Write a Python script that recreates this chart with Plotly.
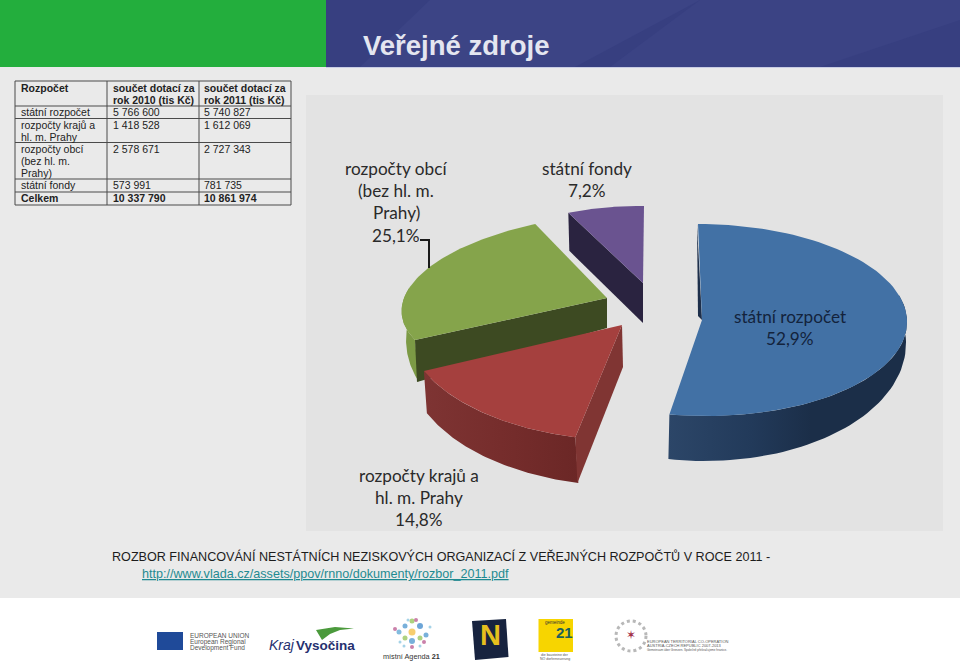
import math
import plotly.graph_objects as go

# ---------- data ----------
table_header = ["Rozpočet", "součet dotací za<br>rok 2010 (tis Kč)", "součet dotací za<br>rok 2011 (tis Kč)"]
row_labels = ["státní rozpočet", "rozpočty krajů a<br>hl. m. Prahy", "rozpočty obcí<br>(bez hl. m.<br>Prahy)", "státní fondy", "Celkem"]
col_2010 = ["5 766 600", "1 418 528", "2 578 671", "573 991", "10 337 790"]
col_2011 = ["5 740 827", "1 612 069", "2 727 343", "781 735", "10 861 974"]
values_2011 = [5740827, 1612069, 2727343, 781735]
pie_names = ["státní rozpočet", "rozpočty krajů a hl. m. Prahy", "rozpočty obcí (bez hl. m. Prahy)", "státní fondy"]

# ---------- layout constants ----------
FONT = "Liberation Sans"
PIE_FONT = "Lato"
total = sum(values_2011)
edges = [0]
for v in values_2011:
    edges.append(edges[-1] + 360 * v / total)
angles = {n: (edges[i], edges[i + 1]) for i, n in enumerate(pie_names)}

fig = go.Figure()
shapes = []
notes = []


def rect(x0, y0, x1, y1, fill, line=None, width=0):
    shapes.append(dict(type="rect", x0=x0, y0=y0, x1=x1, y1=y1, fillcolor=fill, layer="below",
                       line=dict(color=line or fill, width=width)))


def hline(x0, y0, x1, y1, color, width=1):
    shapes.append(dict(type="line", x0=x0, y0=y0, x1=x1, y1=y1, layer="below", line=dict(color=color, width=width)))


def text(x, y, s, size, color="#222222", family=FONT, anchor="left", valign="middle", bold=False, italic=False):
    if bold:
        s = "<b>" + s + "</b>"
    if italic:
        s = "<i>" + s + "</i>"
    xa = "center" if anchor == "middle" else anchor
    notes.append(dict(x=x, y=y, text=s, showarrow=False, xanchor=xa, yanchor=valign, align=xa,
                      font=dict(size=size, color=color, family=family), xref="x", yref="y",
                      borderpad=0, borderwidth=0))


def poly(xs, ys, fill, gradient=None):
    kw = dict(fillgradient=gradient) if gradient else dict(fillcolor=fill)
    fig.add_trace(go.Scatter(x=xs, y=ys, mode="lines", fill="toself", line=dict(width=0, color=fill),
                             hoverinfo="skip", showlegend=False, **kw))


def pt(apex, A, theta):
    u, v = math.sin(math.radians(theta)), -math.cos(math.radians(theta))
    return apex[0] + A[0] * u + A[1] * v, apex[1] + A[2] * u + A[3] * v


def arc(apex, A, t0, t1, n=60):
    pts = [pt(apex, A, t0 + (t1 - t0) * i / n) for i in range(n + 1)]
    return [p[0] for p in pts], [p[1] for p in pts]


def wall(apex, A, apex_b, A_b, t0, t1, fill, gradient=None):
    x1, y1 = arc(apex, A, t0, t1)
    x2, y2 = arc(apex_b, A_b, t0, t1)
    poly(x1 + x2[::-1] + [x1[0]], y1 + y2[::-1] + [y1[0]], fill, gradient)


def radial(apex, A, theta, drop_apex, drop_rim, fill):
    rx, ry = pt(apex, A, theta)
    poly([apex[0], rx, rx + drop_rim[0], apex[0] + drop_apex[0], apex[0]],
         [apex[1], ry, ry + drop_rim[1], apex[1] + drop_apex[1], apex[1]], fill)


def face(apex, A, t0, t1, fill):
    xs, ys = arc(apex, A, t0, t1, 90)
    poly([apex[0]] + xs + [apex[0]], [apex[1]] + ys + [apex[1]], fill)


# ---------- page background ----------
rect(0, 0, 960, 666, "#eaeaea")
rect(0, 0, 326, 67, "#23ae3d")
rect(326, 0, 960, 67, "#373f80")
shapes.append(dict(type="path", path="M 430 0 L 700 0 L 575 67 L 360 67 Z", fillcolor="#3c4485", line=dict(width=0), layer="below"))
shapes.append(dict(type="path", path="M 700 0 L 960 0 L 960 20 L 820 67 L 610 67 Z", fillcolor="#3b4384", line=dict(width=0), layer="below"))
rect(326, 67, 960, 68, "#c9cde4")
rect(0, 598, 960, 666, "#ffffff")
rect(306, 95, 943, 531, "#e3e3e3")

# ---------- pie, back to front ----------
a_state, a_reg, a_mun, a_fund = [angles[n] for n in pie_names]

# státní fondy
ap = (643, 283); A = (173, -1, 2, 77)
radial(ap, A, a_fund[0], (0, 40), (1, 38), "#2a2340")
face(ap, A, a_fund[0], a_fund[1], "#6a5390")

# státní rozpočet
ap = (702, 320); A = (205, 4, 0, 96)
wall(ap, A, (701, 341), (205, 4, 0, 120), 75, a_state[1], "#1c2f4a",
     gradient=dict(type="horizontal", colorscale=[[0, "#2c4668"], [0.35, "#223a5a"], [0.6, "#1b2e48"], [1, "#1b2e48"]]))
r0 = pt(ap, A, 0)
poly([r0[0] - 1, ap[0] - 4, ap[0], r0[0] - 1], [r0[1], ap[1] - 4, ap[1], r0[1]], "#1d2f4b")
face(ap, A, a_state[0], a_state[1], "#4271a5")

# rozpočty obcí
ap = (607, 298); A = (204.5, -19.6, -5, 84.7)
wall(ap, A, (607, 323), (200, -19.6, -5, 123), a_mun[0], 280, "#7c9a45")
radial(ap, A, a_mun[0], (0, 30), (2, 42), "#3d4a22")
face(ap, A, a_mun[0], a_mun[1], "#85a44b")

# rozpočty krajů
ap = (622, 325); A = (217, -8.1, 5.5, 115)
wall(ap, A, (625, 364), (217, -8.1, 5.5, 122), a_reg[0], a_reg[1], "#762d2c",
     gradient=dict(type="horizontal", colorscale=[[0, "#7e3433"], [0.5, "#762d2c"], [1, "#6b2726"]]))
radial(ap, A, a_reg[0], (1, 42), (2, 46), "#803533")
face(ap, A, a_reg[0], a_reg[1], "#a5403e")

# leader line
fig.add_trace(go.Scatter(x=[420, 429, 429], y=[240, 240, 268], mode="lines", line=dict(color="#1a1a1a", width=2),
                         hoverinfo="skip", showlegend=False))

# ---------- pie labels ----------
PCT = {n: f"{100 * v / total:.1f}%".replace(".", ",") for n, v in zip(pie_names, values_2011)}
LS = 17.2
for i, s in enumerate(["rozpočty obcí", "(bez hl. m.", "Prahy)", PCT[pie_names[2]]]):
    text(396, 168 + i * 22.4, s, LS, "#2a2a2a", PIE_FONT, "middle")
for i, s in enumerate(["státní fondy", PCT[pie_names[3]]]):
    text(587, 168 + i * 22, s, LS, "#2a2a2a", PIE_FONT, "middle")
for i, s in enumerate(["státní rozpočet", PCT[pie_names[0]]]):
    text(790, 316 + i * 22, s, LS, "#13233c", PIE_FONT, "middle")
for i, s in enumerate(["rozpočty krajů a", "hl. m. Prahy", PCT[pie_names[1]]]):
    text(419, 475 + i * 22.4, s, LS, "#2a2a2a", PIE_FONT, "middle")

# ---------- table ----------
cols = [15, 107, 199, 291]
rows = [81, 106, 118.5, 142.5, 179, 192, 205]
for x in cols:
    hline(x, rows[0], x, rows[-1], "#4a4a4a", 1)
for y in rows:
    hline(cols[0], y, cols[-1], y, "#4a4a4a", 1)
TS = 10.5
LH = 12.2
text_x = [21, 113, 204]


def cell(x, top, s, bold=False):
    for i, part in enumerate(s.split("<br>")):
        text(x, top + 6.6 + i * LH, part, TS, "#222222", FONT, "left", "middle", bold)


for x, s in zip(text_x, table_header):
    cell(x, rows[0], s, True)
for i, label in enumerate(row_labels):
    bold = label == "Celkem"
    top = rows[i + 1]
    cell(text_x[0], top - 0.3, label, bold)
    cell(text_x[1], top - 0.3, col_2010[i], bold)
    cell(text_x[2], top - 0.3, col_2011[i], bold)

# ---------- title and source ----------
text(363, 45.5, "Veřejné zdroje", 27.5, "#e4e6f0", FONT, "left", "middle", True)
text(112, 556.5, "ROZBOR FINANCOVÁNÍ NESTÁTNÍCH NEZISKOVÝCH ORGANIZACÍ Z VEŘEJNÝCH ROZPOČTŮ V ROCE 2011 -", 12.6, "#1c1c1c")
text(142, 574, "<u>http://www.vlada.cz/assets/ppov/rnno/dokumenty/rozbor_2011.pdf</u>", 12.6, "#1f8a91")

# ---------- footer logos ----------
rect(157, 632, 183, 650, "#1f4a99")
for i, s in enumerate(["EUROPEAN UNION", "European Regional", "Development Fund"]):
    text(190, 635.5 + i * 6, s, 6.5, "#555555")
fig.add_trace(go.Scatter(x=[316, 335, 354, 340, 330, 322, 316], y=[630, 627, 628.5, 630, 634, 640, 630], mode="lines", fill="toself",
                         fillcolor="#4b9a3c", line=dict(width=0, color="#4b9a3c"), hoverinfo="skip", showlegend=False))
text(269, 645, "Kraj", 14, "#26306f", FONT, "left", "middle", False, True)
text(296, 645, "Vysočina", 13.5, "#26306f", FONT, "left", "middle", True)
dot_x = [412, 405, 420, 399, 426, 405, 412, 420, 400, 424, 412, 404, 420, 412, 395, 430, 408, 416]
dot_y = [632, 626, 626, 632, 635, 638, 641, 638, 642, 642, 647, 646, 646, 621, 629, 627, 620, 620]
dot_c = ["#f4b932", "#3f8fca", "#2f7fc6", "#4e9fd1", "#3f8fca", "#8cbf4a", "#3f8fca", "#8cbf4a", "#7fc0dd", "#b34b86",
         "#b34b86", "#7fc0dd", "#7fc0dd", "#8cbf4a", "#b34b86", "#7fc0dd", "#7fc0dd", "#b34b86"]
dot_s = [7, 5, 6, 5, 5, 5, 6, 5, 3, 4, 4, 3, 3, 5, 4, 3, 3, 4]
fig.add_trace(go.Scatter(x=dot_x, y=dot_y, mode="markers", marker=dict(color=dot_c, size=dot_s, line=dict(width=0)),
                         hoverinfo="skip", showlegend=False))
text(411, 656, "místní Agenda <b>21</b>", 7.3, "#333333", FONT, "middle")
fig.add_trace(go.Scatter(x=[472, 506, 508.5, 475, 472], y=[621, 619, 657, 660, 621], mode="lines", fill="toself",
                         fillcolor="#17233f", line=dict(width=0, color="#17233f"), hoverinfo="skip", showlegend=False))
text(490, 635, "N", 29, "#e6bf1d", FONT, "middle", "middle", True)
rect(538.5, 619, 573, 652, "#f7d500")
text(555, 622.5, "gemeinde", 4.5, "#333333", FONT, "middle")
text(573, 632, "21", 15, "#20605a", FONT, "right", "middle", True)
text(555, 654.5, "die bausteine der", 3.5, "#555555", FONT, "middle")
text(555, 658.5, "NÖ dorferneuerung", 3.5, "#555555", FONT, "middle")
shapes.append(dict(type="circle", x0=616, y0=621, x1=646, y1=651, layer="below", fillcolor="#ffffff", line=dict(color="#b8b8b8", width=3, dash="dot")))
text(631, 635, "<b>✶</b>", 12, "#a3324a", "DejaVu Sans", "middle")
for i, s in enumerate(["EUROPEAN TERRITORIAL CO-OPERATION", "AUSTRIA-CZECH REPUBLIC 2007-2013", "Gemeinsam über Grenzen. Společně překračujeme hranice."]):
    text(647, 641.5 + i * 4, s, 4 if i < 2 else 3, "#555555")

fig.update_layout(
    width=960, height=666, margin=dict(l=0, r=0, t=0, b=0), showlegend=False,
    paper_bgcolor="#eaeaea", plot_bgcolor="#eaeaea",
    xaxis=dict(range=[0, 960], visible=False, fixedrange=True),
    yaxis=dict(range=[666, 0], visible=False, fixedrange=True),
    shapes=shapes, annotations=notes,
)
fig.write_html("out.html", config={"displayModeBar": False},
               post_script="document.body.style.margin='0';document.body.style.overflow='hidden';")
